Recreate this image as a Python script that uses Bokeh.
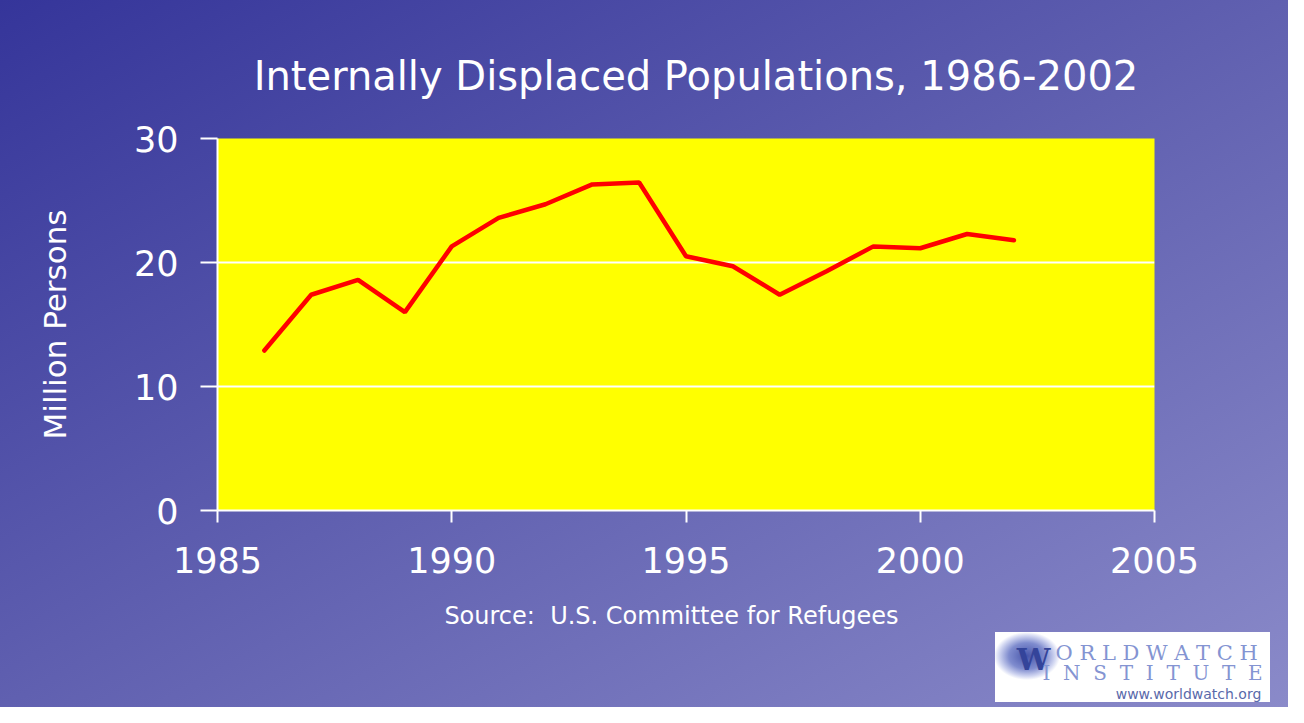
from bokeh.plotting import figure
from bokeh.models import Range1d, FixedTicker, Label
from bokeh.embed import file_html
from bokeh.resources import INLINE

# ---- data ----
years = [1986, 1987, 1988, 1989, 1990, 1991, 1992, 1993, 1994,
         1995, 1996, 1997, 1998, 1999, 2000, 2001, 2002]
displaced = [12.9, 17.4, 18.6, 16.0, 21.3, 23.6, 24.7, 26.3, 26.45,
             20.5, 19.7, 17.4, 19.3, 21.3, 21.15, 22.3, 21.8]
x_ticks = [1985, 1990, 1995, 2000, 2005]
y_ticks = [0, 10, 20, 30]
title_text = "Internally Displaced Populations, 1986-2002"
y_label_text = "Million Persons"
source_text = "Source:\u00a0 U.S. Committee for Refugees"

# ---- layout ----
W, H = 1288, 707
FL, FT, FW, FH = 217, 138, 937, 372
FONT = "DejaVu Sans"

bg = ", ".join([
    # logo oval
    "radial-gradient(33px 24px at 1027px 656px, rgba(60,75,165,0.95) 0%, "
    "rgba(105,120,198,0.85) 55%, rgba(165,175,228,0.5) 85%, rgba(255,255,255,0) 100%)",
    # logo white box
    "linear-gradient(#ffffff, #ffffff) 995px 632px / 275px 70px no-repeat",
    # slide gradient
    "linear-gradient(to bottom right, #35359a 0%, #6060b0 50%, #8a8ac9 100%)",
])

p = figure(width=W, height=H, x_range=Range1d(x_ticks[0], x_ticks[-1]),
           y_range=Range1d(y_ticks[0], y_ticks[-1]),
           output_backend="svg", toolbar_location=None, title=None,
           min_border_left=FL, min_border_right=W - FL - FW,
           min_border_top=FT, min_border_bottom=H - FT - FH)
p.styles = {"background": bg}
p.border_fill_color = None
p.background_fill_color = "#ffff00"
p.outline_line_color = None

for ax in (p.xaxis[0], p.yaxis[0]):
    ax.axis_line_color = "white"
    ax.axis_line_width = 2
    ax.major_tick_line_color = "white"
    ax.major_tick_line_width = 2
    ax.minor_tick_line_color = None
    ax.major_tick_in = 0
    ax.major_label_text_color = "white"
    ax.major_label_text_font = FONT
    ax.major_label_text_font_size = "35px"

p.xaxis[0].ticker = FixedTicker(ticks=x_ticks)
p.xaxis[0].major_tick_out = 12
p.xaxis[0].major_label_standoff = 24
p.yaxis[0].ticker = FixedTicker(ticks=y_ticks)
p.yaxis[0].major_tick_out = 17
p.yaxis[0].major_label_standoff = 22
p.yaxis[0].axis_label = y_label_text
p.yaxis[0].axis_label_text_font = FONT
p.yaxis[0].axis_label_text_font_size = "31px"
p.yaxis[0].axis_label_text_font_style = "normal"
p.yaxis[0].axis_label_text_color = "white"
p.yaxis[0].axis_label_standoff = 58

p.xgrid.visible = False
p.ygrid.ticker = FixedTicker(ticks=y_ticks)
p.ygrid.grid_line_color = "white"
p.ygrid.grid_line_width = 2

p.line(years, displaced, line_color="#ff0000", line_width=4.5, line_cap="round")


def add_label(side, x, y, text, **kw):
    opts = dict(text_align="left", text_baseline="alphabetic", text_color="white",
                text_font=FONT)
    opts.update(kw)
    p.add_layout(Label(x=x, y=y, x_units="screen", y_units="screen",
                       text=text, **opts), side)


# ---- texts (offsets from frame left / from each label's band bottom) ----
add_label("above", 478.5, 63, title_text, text_align="center", text_font_size="40px")
add_label("above", 454, -523.5, source_text, text_align="center", text_font_size="24px")

# ---- logo texts ----
add_label("below", 816, -49, "W", text_align="center", text_color="#34449a",
          text_font="DejaVu Serif", text_font_style="bold", text_font_size="30px")
add_label("below", 838, -18, "O R L D W A T C H", text_color="#8494d2",
          text_font="DejaVu Serif", text_font_size="21px")
add_label("below", 825, -14, "I\u00a0\u00a0N\u00a0\u00a0S\u00a0\u00a0T\u00a0\u00a0I\u00a0\u00a0T\u00a0\u00a0U\u00a0\u00a0T\u00a0\u00a0E",
          text_color="#8494d2", text_font="DejaVu Serif", text_font_size="20px")
add_label("below", 971, -19, "www.worldwatch.org", text_align="center",
          text_color="#5a6aaa", text_font_size="14px")

open("out.html", "w").write(file_html(p, INLINE))
